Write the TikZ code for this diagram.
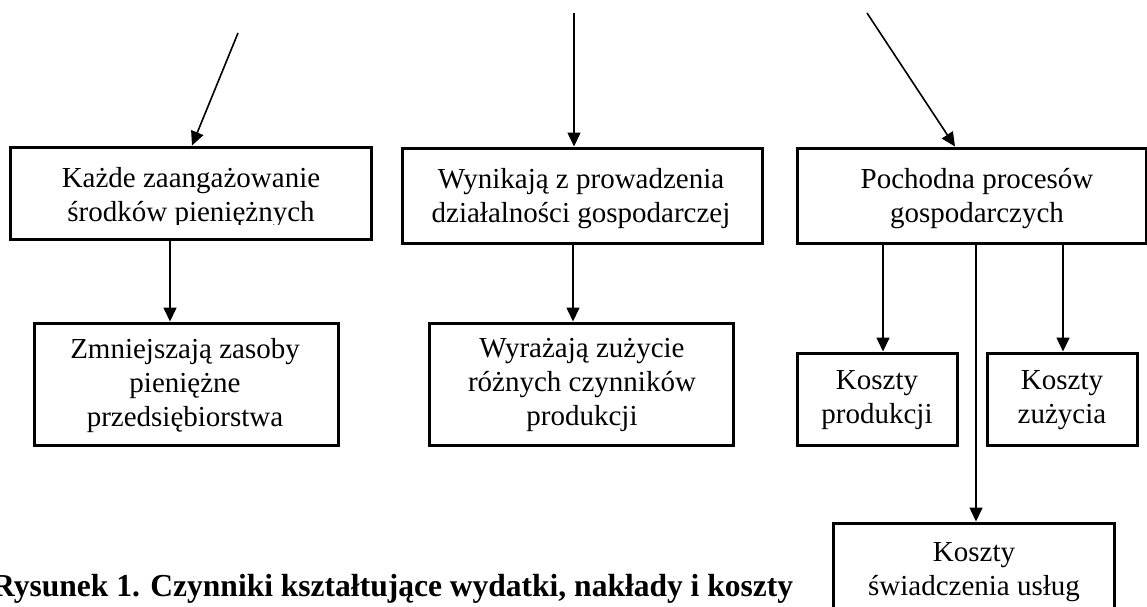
\documentclass[tikz,border=0pt]{standalone}
\usepackage{fontspec}
\setmainfont{Liberation Serif}
\usetikzlibrary{arrows.meta}
\begin{document}
\begin{tikzpicture}[x=1pt,y=-1pt,
  boxstyle/.style={draw, line width=3pt, inner sep=0pt},
  txt/.style={inner sep=0pt, align=center, font=\fontsize{29}{34}\selectfont},
  arr/.style={line width=1.6pt, -{Triangle[length=14pt,width=13pt]}},
  ln/.style={line width=1.6pt}]
\useasboundingbox (0,0) rectangle (1147,606);
\fill[white] (0,0) rectangle (1147,606);

% top boxes
\node[boxstyle, minimum width=361pt, minimum height=92pt] (A) at (190.5,193) {};
\begin{scope}
  \clip (10,147) rectangle (371,224);
  \node[txt] (Atxt) at (191,197.3) {Każde zaangażowanie\\środków pieniężnych};
\end{scope}
\node[boxstyle, minimum width=360pt, minimum height=95pt] (B) at (582,195.5) {};
\node[txt] (Btxt) at (581,198.3) {Wynikają z prowadzenia\\działalności gospodarczej};
\node[boxstyle, minimum width=349pt, minimum height=95pt] (C) at (971.5,195.5) {};
\node[txt] (Ctxt) at (977,198.3) {Pochodna procesów\\gospodarczych};

% second row
\node[boxstyle, minimum width=304pt, minimum height=122pt] (A2) at (186,384) {};
\node[txt] (A2txt) at (185,385.3) {Zmniejszają zasoby\\pieniężne\\przedsiębiorstwa};
\node[boxstyle, minimum width=304pt, minimum height=122pt] (B2) at (581,384) {};
\node[txt] (B2txt) at (582,385.3) {Wyrażają zużycie\\różnych czynników\\produkcji};
\node[boxstyle, minimum width=160pt, minimum height=92pt] (C1) at (877,399) {};
\node[txt] (C1txt) at (877,400.3) {Koszty\\produkcji};
\node[boxstyle, minimum width=150pt, minimum height=92pt] (C2) at (1062,399) {};
\node[txt] (C2txt) at (1062,400.3) {Koszty\\zużycia};
\node[boxstyle, minimum width=281pt, minimum height=98pt] (C3) at (973.5,572) {};
\node[txt] (C3txt) at (974,572.3) {Koszty\\świadczenia usług};

% caption
\node[anchor=base west, inner sep=0pt, font=\bfseries\fontsize{32}{36}\selectfont] (cap) at (-8,596) {\scalebox{0.985}[1]{Rysunek 1. Czynniki kształtujące wydatki, nakłady i koszty}};

% incoming arrows
\coordinate (s1) at (238,33);
\coordinate (s2) at (574,13);
\coordinate (s3) at (867,13);
\coordinate (e1) at (192,0);
\coordinate (e3) at (955,0);
\draw[arr] (s1) -- (e1 |- A.north);
\draw[arr] (s2) -- (s2 |- B.north);
\draw[arr] (s3) -- (e3 |- C.north);

% down arrows
\coordinate (xa) at (170,0);
\coordinate (xb) at (573,0);
\coordinate (xc1) at (883,0);
\coordinate (xc2) at (976,0);
\coordinate (xc3) at (1063,0);
\draw[arr] (xa |- A.south) -- (xa |- A2.north);
\draw[arr] (xb |- B.south) -- (xb |- B2.north);
\draw[arr] (xc1 |- C.south) -- (xc1 |- C1.north);
\draw[arr] (xc2 |- C.south) -- (xc2 |- C3.north);
\draw[arr] (xc3 |- C.south) -- (xc3 |- C2.north);
\end{tikzpicture}
\end{document}
